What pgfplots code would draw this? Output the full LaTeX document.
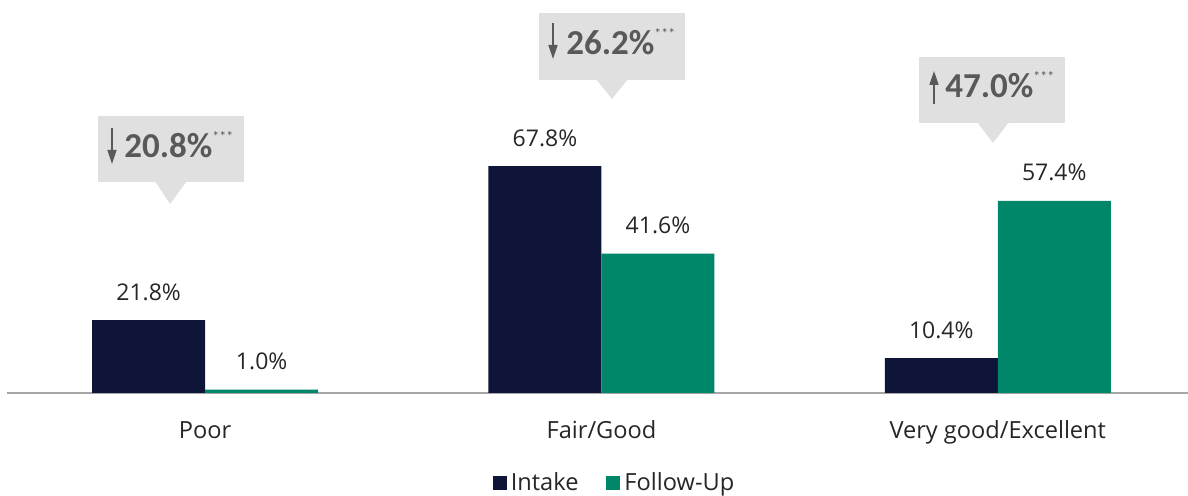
\documentclass[border=0pt]{standalone}
\usepackage{pgfplots}
\pgfplotsset{compat=1.18}
\usepackage{fontspec}
\setmainfont{Open Sans}
\newfontfamily\calib{Carlito}
\usetikzlibrary{arrows.meta,calc}
\definecolor{intake}{RGB}{14,21,56}
\definecolor{follow}{RGB}{0,135,105}
\definecolor{boxgray}{RGB}{224,224,224}
\definecolor{txtgray}{RGB}{89,89,89}
\definecolor{axgray}{RGB}{166,166,166}
\definecolor{lbl}{RGB}{38,38,38}
\begin{document}
\begin{tikzpicture}
\begin{axis}[
  name=ax,
  scale only axis,
  width=590.5pt, height=196.5pt,
  xmin=-0.5, xmax=2.48, ymin=0, ymax=117.4,
  ybar=0pt, bar width=56.5pt,
  axis x line=bottom, axis y line=none,
  axis line style={draw=axgray, line width=1pt, -},
  xtick={0,1,2}, xticklabels={Poor,Fair/Good,Very good/Excellent},
  major tick length=0pt,
  xticklabel style={anchor=base, yshift=-23pt, font=\fontsize{11.8}{13}\selectfont, text=lbl},
  clip=false,
  /pgf/number format/assume math mode=true,
  nodes near coords={\pgfmathprintnumber[fixed,fixed zerofill,precision=1,assume math mode=true]{\pgfplotspointmeta}\%},
  every node near coord/.append style={anchor=base, yshift=10pt, font=\fontsize{11.5}{13}\selectfont, text=lbl, inner sep=0pt},
  legend columns=2,
  legend style={at={(0.5,0)}, anchor=center, yshift=-45pt, xshift=9pt, draw=none, fill=none,
    font=\fontsize{11.8}{13}\selectfont, text=lbl,
    /tikz/every even column/.append style={column sep=12pt}},
  legend image code/.code={\fill[#1] (0pt,-3.5pt) rectangle (7pt,3.5pt);},
]
\addplot[fill=intake, draw=none] coordinates {(0,21.8) (1,67.8) (2,10.4)};
\addplot[fill=follow, draw=none] coordinates {(0,1.0) (1,41.6) (2,57.4)};
\legend{Intake, Follow-Up}
\end{axis}
\begin{scope}[x=0.5pt, y=-0.5pt, shift={(ax.south west)}, shift={(-7,-393)}]
  % box 1
  \fill[boxgray] (98,116) rectangle (244,182);
  \fill[boxgray] (155,181) -- (187,181) -- (170,204) -- cycle;
  \draw[txtgray, line width=0.8pt, -{Triangle[width=4.5pt,length=7pt]}] (112,128) -- (112,164);
  \node[anchor=base west, inner sep=0pt, text=txtgray] at (124,158) {\calib\fontsize{17.5}{17}\selectfont\bfseries 20.8\%\raisebox{8pt}{\fontsize{7}{7}\selectfont\mdseries ***}};
  % box 2
  \fill[boxgray] (539,13) rectangle (685,80);
  \fill[boxgray] (596,79) -- (628,79) -- (612,99) -- cycle;
  \draw[txtgray, line width=0.8pt, -{Triangle[width=4.5pt,length=7pt]}] (553,23) -- (553,59);
  \node[anchor=base west, inner sep=0pt, text=txtgray] at (566,55) {\calib\fontsize{17.5}{17}\selectfont\bfseries 26.2\%\raisebox{8pt}{\fontsize{7}{7}\selectfont\mdseries ***}};
  % box 3
  \fill[boxgray] (919,57) rectangle (1065,123);
  \fill[boxgray] (977,122) -- (1009,122) -- (993,143) -- cycle;
  \draw[txtgray, line width=0.8pt, -{Triangle[width=4.5pt,length=7pt]}] (934,104) -- (934,71);
  \node[anchor=base west, inner sep=0pt, text=txtgray] at (945,98) {\calib\fontsize{17.5}{17}\selectfont\bfseries 47.0\%\raisebox{8pt}{\fontsize{7}{7}\selectfont\mdseries ***}};
\end{scope}
\pgfresetboundingbox
\path ($(ax.south west)+(-3.5pt,-51.5pt)$) rectangle (ax.north east);
\end{tikzpicture}
\end{document}
